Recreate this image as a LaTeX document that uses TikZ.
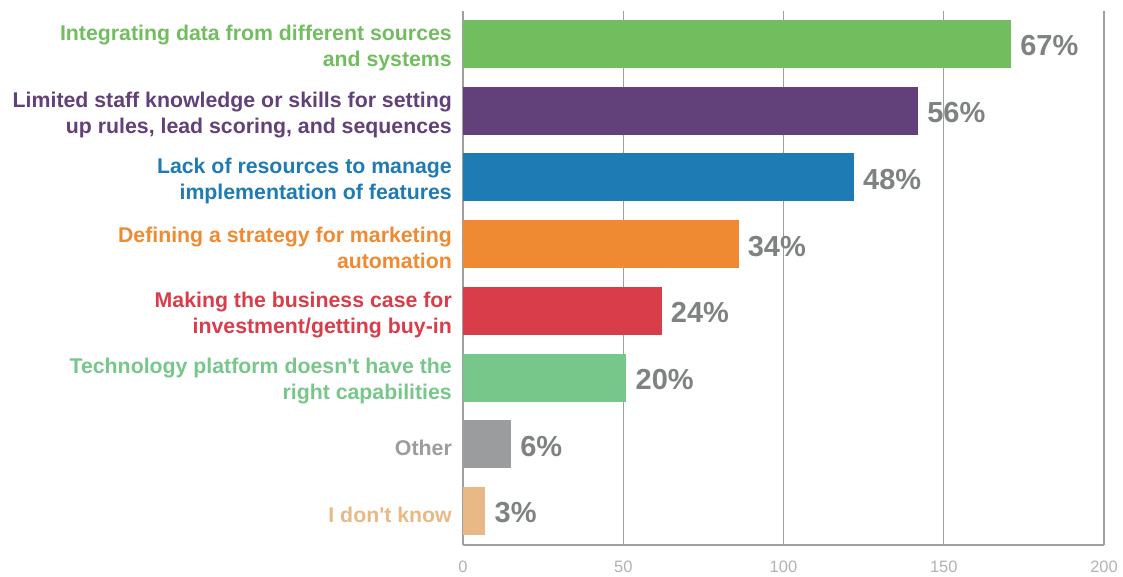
\documentclass[tikz,border=0pt]{standalone}
\usepackage{fontspec}
\setmainfont{Liberation Sans}
\usetikzlibrary{calc}
\definecolor{intgreen}{RGB}{114,190,95}
\definecolor{staffpurple}{RGB}{98,64,121}
\definecolor{resblue}{RGB}{31,123,180}
\definecolor{stratorange}{RGB}{240,138,50}
\definecolor{casered}{RGB}{217,61,74}
\definecolor{techgreen}{RGB}{120,199,138}
\definecolor{othergray}{RGB}{154,156,157}
\definecolor{unknowntan}{RGB}{232,185,134}
\definecolor{pctgray}{RGB}{127,130,130}
\definecolor{tickgray}{RGB}{178,178,178}
\definecolor{gridgray}{RGB}{160,160,160}
\newcommand{\surveybar}[5]{
    % #1 = row, #2 = count, #3 = colour, #4 = percent, #5 = label
    \pgfmathsetmacro{\ymid}{44+66.7*(#1-1)}
    \pgfmathsetmacro{\xend}{463+3.205*#2}
    \fill[#3] (463,\ymid-24) rectangle (\xend,\ymid+24);
    \node[pctlabel] (pct#1) at (\xend,\ymid+2) {#4};
    \node[barlabel,text=#3] (lab#1) at (452,\ymid+4) {#5};
}
\tikzset{
    barlabel/.style={anchor=east,align=right,inner sep=0pt,font=\fontsize{21.3}{26}\selectfont\bfseries},
    pctlabel/.style={anchor=west,inner sep=0pt,xshift=9pt,text=pctgray,font=\fontsize{29}{29}\selectfont\bfseries},
    ticklabel/.style={anchor=south,text=tickgray,inner sep=0pt,text height=12pt,text depth=0pt,font=\fontsize{16.5}{16.5}\selectfont}
}

\begin{document}
\begin{tikzpicture}[x=1pt,y=-1pt]
\useasboundingbox (0,0) rectangle (1123,577);

% Grid lines and axis
\foreach \k/\v in {0/0,1/50,2/100,3/150,4/200}{
    \draw[gridgray,line width=1.2pt] ({463+160.25*\k},11) -- ({463+160.25*\k},545);
    \node[ticklabel] (tick\k) at ({463+160.25*\k},573) {\v};
}
\draw[gridgray,line width=1.8pt] (463,545) -- (1104,545);

% Bars
\surveybar{1}{171}{intgreen}{67\%}{Integrating data from different sources\\and systems}
\surveybar{2}{142}{staffpurple}{56\%}{Limited staff knowledge or skills for setting\\up rules, lead scoring, and sequences}
\surveybar{3}{122}{resblue}{48\%}{Lack of resources to manage\\implementation of features}
\surveybar{4}{86}{stratorange}{34\%}{Defining a strategy for marketing\\automation}
\surveybar{5}{62}{casered}{24\%}{Making the business case for\\investment/getting buy-in}
\surveybar{6}{51}{techgreen}{20\%}{Technology platform doesn\textquotesingle t have the\\right capabilities}
\surveybar{7}{15}{othergray}{6\%}{Other}
\surveybar{8}{7}{unknowntan}{3\%}{I don\textquotesingle t know}

\end{tikzpicture}
\end{document}
